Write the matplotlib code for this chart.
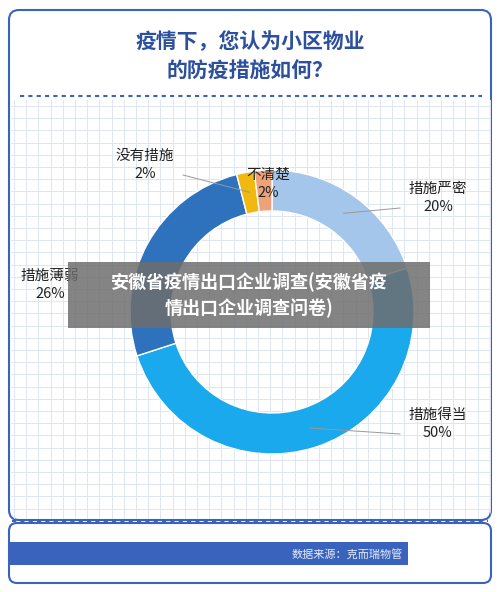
import matplotlib
matplotlib.use('Agg')
from matplotlib import pyplot as plt
from matplotlib.patches import FancyBboxPatch, Rectangle
import numpy as np

plt.rcParams['font.family'] = ['Noto Sans CJK SC', 'DejaVu Sans']

# data
labels = ['措施严密', '措施得当', '措施薄弱', '没有措施', '不清楚']
values = [20, 50, 26, 2, 2]
colors = ['#a4c6ea', '#1aa9ec', '#2e72bd', '#f1b90f', '#eda27a']
title_lines = ['疫情下，您认为小区物业', '的防疫措施如何？']
source = '数据来源：克而瑞物管'
banner = '安徽省疫情出口企业调查(安徽省疫\n情出口企业调查问卷)'

fig = plt.figure(figsize=(5, 5.92), dpi=100)
ax = fig.add_axes([0, 0, 1, 1])

# donut (y axis is flipped, so startangle -90 is 12 o'clock and counterclock goes clockwise on screen)
wedges, _ = ax.pie(values, colors=colors, startangle=-90, counterclock=True,
                   center=(272, 312), radius=142,
                   wedgeprops=dict(width=41, edgecolor='white', linewidth=1))
for w in wedges:
    w.set_zorder(3)

ax.set_xlim(0, 500)
ax.set_ylim(592, 0)
ax.set_aspect('auto')
ax.axis('off')

# card
card = FancyBboxPatch((9, 10), 482, 510, boxstyle='round,pad=0,rounding_size=10',
                      fc='white', ec='#3a63be', lw=1.5, zorder=0)
ax.add_patch(card)
for gx in np.arange(14, 490, 12.2):
    ln, = ax.plot([gx, gx], [100, 518], color='#dfe6f3', lw=0.7, zorder=1)
    ln.set_clip_path(card)
for gy in np.arange(106, 518, 12.2):
    ln, = ax.plot([11, 489], [gy, gy], color='#dfe6f3', lw=0.7, zorder=1)
    ln.set_clip_path(card)
ax.plot([20, 482], [96, 96], color='#3a63be', lw=1.5, ls=(0, (2, 2)), zorder=2)
ax.plot([12, 488], [521, 521], color='#3a63be', lw=1.5, ls=(0, (2, 2)), zorder=2)
bottom = FancyBboxPatch((9, 523), 482, 60, boxstyle='round,pad=0,rounding_size=8',
                        fc='white', ec='#3a63be', lw=1.5, zorder=0)
ax.add_patch(bottom)

for i, t in enumerate(title_lines):
    ax.text(250, 42 + i * 29, t, ha='center', va='center', fontsize=15,
            fontweight='heavy', color='#2c4f9e', zorder=3)

lab_pos = [(438, 198), (438, 424), (50, 285), (145, 165), (268, 184)]
for w, lab, v, (lx, ly) in zip(wedges, labels, values, lab_pos):
    ang = np.deg2rad((w.theta1 + w.theta2) / 2)
    px = 272 + 122 * np.cos(ang)
    py = 312 + 122 * np.sin(ang)
    ax.text(lx, ly, f'{lab}\n{v}%', ha='center', va='center', fontsize=10.5,
            color='#222222', linespacing=1.35, zorder=5)
    if lab in ('措施严密', '措施得当', '没有措施'):
        ex = lx - 38 if lx > 272 else lx + 38
        ax.plot([ex, px], [ly + 10, py], color='#999999', lw=0.7, zorder=4)

# banner overlay
ax.add_patch(Rectangle((68, 262), 362, 66, fc='#6e6e6e', alpha=0.85, zorder=6))
ax.text(249, 295, banner, ha='center', va='center', fontsize=13, fontweight='bold',
        color='white', linespacing=1.4, zorder=7)

# source bar
ax.add_patch(Rectangle((9, 542), 399, 23, fc='#3a63be', ec='none', zorder=3))
ax.text(403, 554, source, ha='right', va='center', fontsize=8, color='#e6ecf8', zorder=4)

fig.savefig('out.png', dpi=100)
